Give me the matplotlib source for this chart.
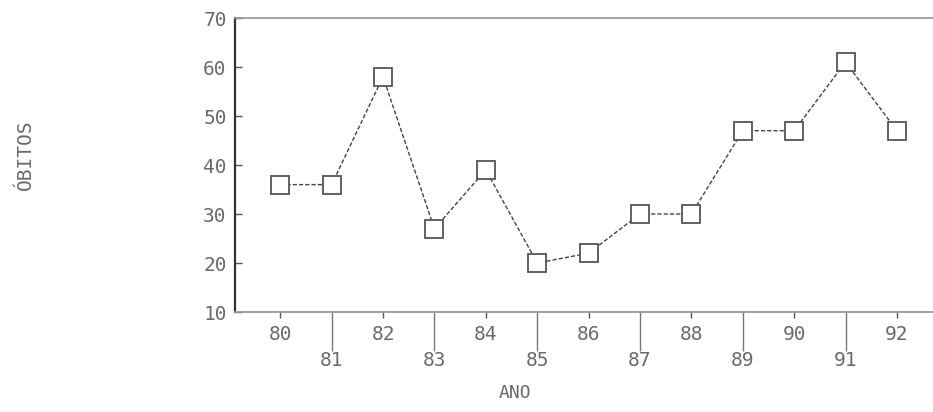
import matplotlib.pyplot as plt

anos = [80, 81, 82, 83, 84, 85, 86, 87, 88, 89, 90, 91, 92]
obitos = [36, 36, 58, 27, 39, 20, 22, 30, 30, 47, 47, 61, 47]
y_ticks = [10, 20, 30, 40, 50, 60, 70]

txt = '#6a6a6a'

fig = plt.figure(figsize=(9.33, 4.12), dpi=100)
ax = fig.add_axes([0.2519, 0.2427, 0.748, 0.7136])

ax.plot(anos, obitos, color='#444444', lw=1.0, ls=(0, (3, 1.5)),
        marker='s', ms=13, mfc='white', mec='#555555', mew=1.3)

ax.set_xlim(79.12, 92.7)
ax.set_ylim(10, 70)

# even years: short ticks, labels close; odd years: long ticks, labels lower
pares = [a for a in anos if a % 2 == 0]
impares = [a for a in anos if a % 2 == 1]
ax.set_xticks(pares)
ax.set_xticklabels([str(a) for a in pares])
ax.set_xticks(impares, minor=True)
ax.set_xticklabels([str(a) for a in impares], minor=True)
ax.tick_params(axis='x', which='major', length=4, width=1, color='#555555',
               pad=5, labelsize=14, labelcolor=txt)
ax.tick_params(axis='x', which='minor', length=28, width=1, color='#777777',
               pad=0, labelsize=14, labelcolor=txt)

ax.set_yticks(y_ticks)
ax.tick_params(axis='y', direction='in', length=5, width=1, color='#555555',
               pad=6, labelsize=14, labelcolor=txt)
for lab in ax.get_xticklabels(which='both') + ax.get_yticklabels():
    lab.set_family('DejaVu Sans Mono')

ax.spines['left'].set_color('#333333')
ax.spines['left'].set_linewidth(1.6)
for s in ['top', 'bottom']:
    ax.spines[s].set_color('#9a9a9a')
    ax.spines[s].set_linewidth(1.3)
    ax.spines[s].set_linestyle((0, (1, 1)))
ax.spines['right'].set_color('#dddddd')
ax.spines['right'].set_linewidth(0.8)

fig.text(0.552, 0.045, 'ANO', ha='center', va='center', fontsize=13,
         color=txt, family='DejaVu Sans Mono')
fig.text(0.027, 0.625, 'ÓBITOS', ha='center', va='center', fontsize=14,
         color=txt, rotation=90, family='DejaVu Sans Mono')

plt.savefig('out.png', dpi=100)
